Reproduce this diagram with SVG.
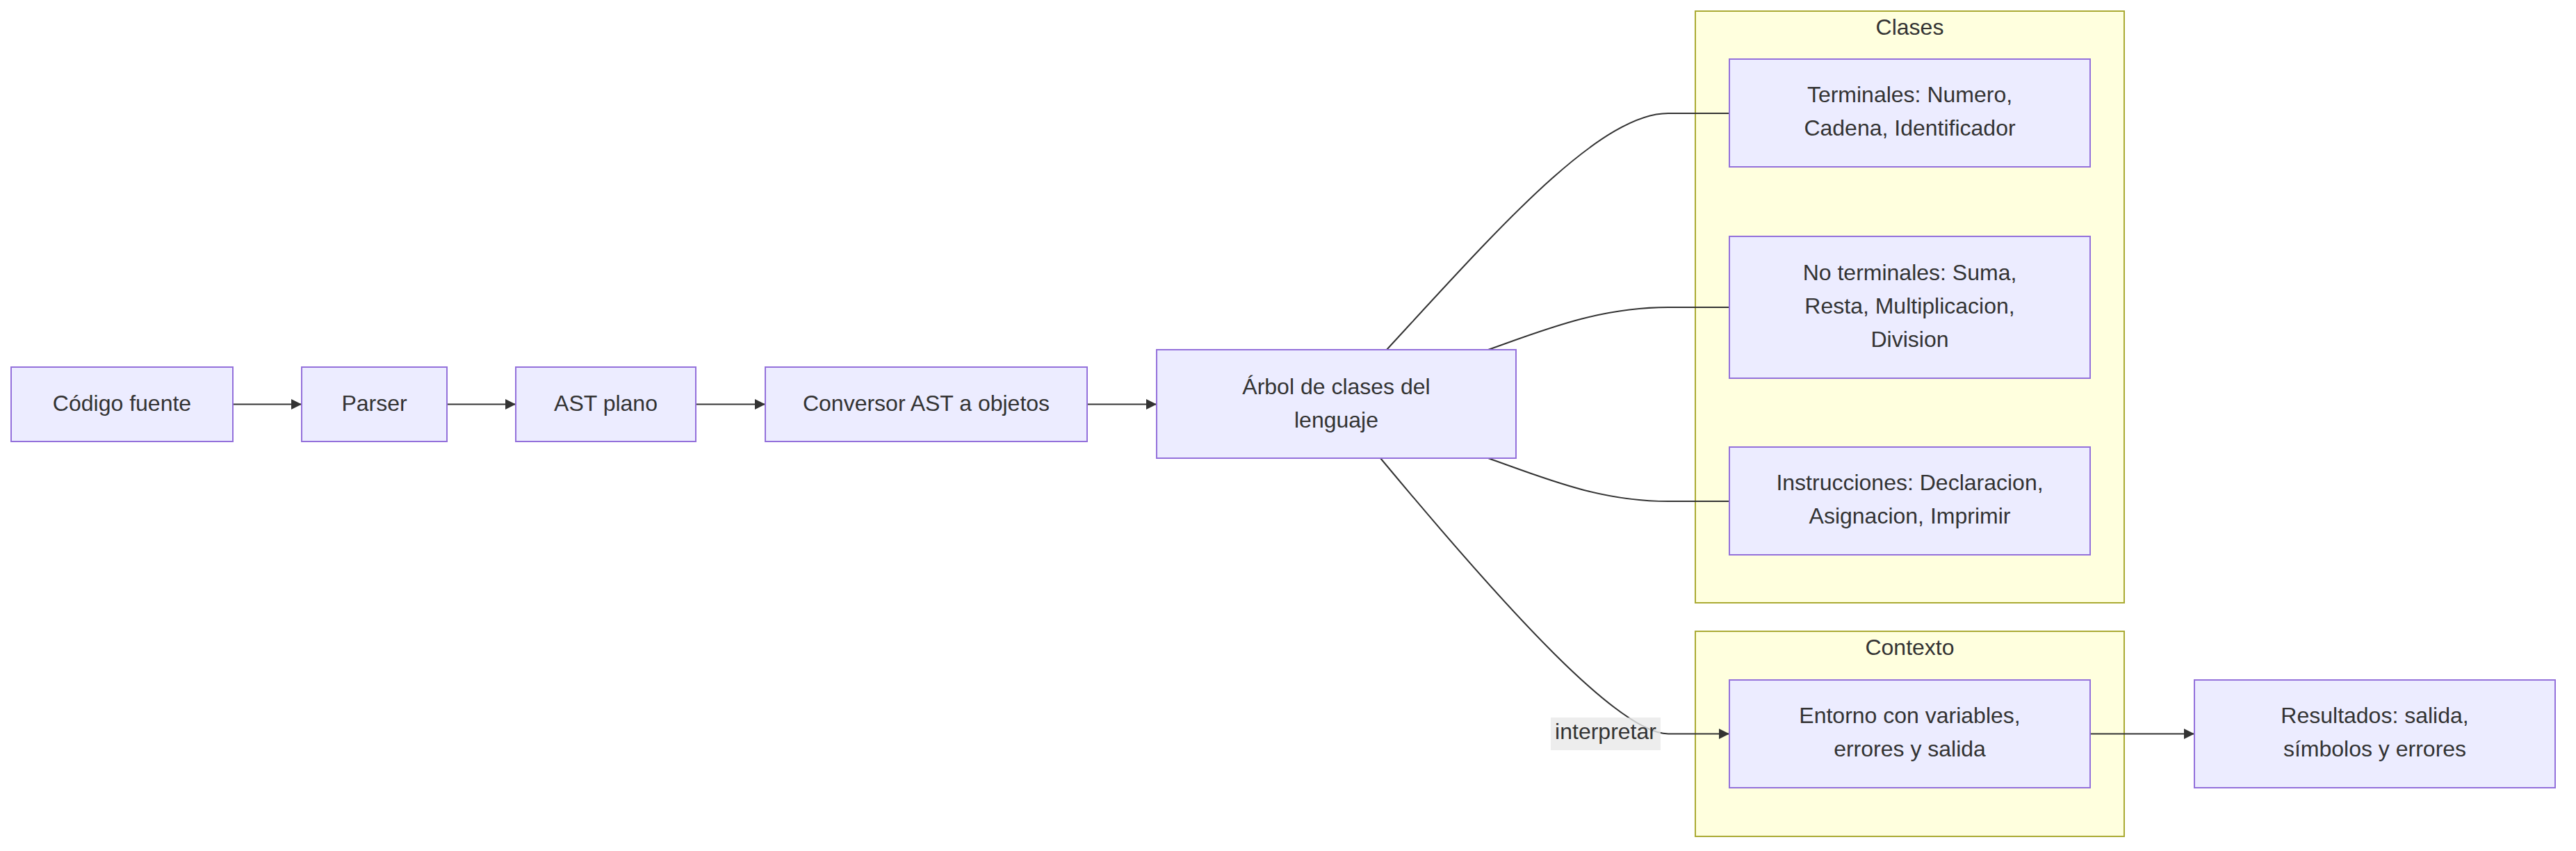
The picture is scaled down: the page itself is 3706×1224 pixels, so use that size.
<svg xmlns="http://www.w3.org/2000/svg" width="3706" height="1224" viewBox="0 0 3706 1224">
<style>
.cluster{fill:#ffffde;stroke:#aaaa33;stroke-width:2}
.node{fill:#ececff;stroke:#9370db;stroke-width:2}
.t{font-family:"Liberation Sans",Arial,sans-serif;font-size:32px;fill:#333333;text-anchor:middle}
.edge{fill:none;stroke:#333333;stroke-width:2}
.lbl{fill:rgba(232,232,232,0.8)}
</style>
<defs>
<marker id="arr" viewBox="0 0 10 10" refX="10" refY="5" markerWidth="15" markerHeight="15" markerUnits="userSpaceOnUse" orient="auto">
<path d="M0,0 L10,5 L0,10 z" fill="#333333"/>
</marker>
</defs>
<rect width="3706" height="1224" fill="#ffffff"/>
<g id="cluster-clases">
<rect class="cluster" x="2439" y="16" width="617" height="851"/>
<text class="t" x="2747.5" y="50">Clases</text>
</g>
<g id="cluster-contexto">
<rect class="cluster" x="2439" y="908" width="617" height="295"/>
<text class="t" x="2747.5" y="942">Contexto</text>
</g>
<g id="connectors">
<path class="edge" d="M335,581.5 L434,581.5" marker-end="url(#arr)"/>
<path class="edge" d="M643,581.5 L742,581.5" marker-end="url(#arr)"/>
<path class="edge" d="M1001,581.5 L1101,581.5" marker-end="url(#arr)"/>
<path class="edge" d="M1564,581.5 L1664,581.5" marker-end="url(#arr)"/>
<path class="edge" d="M1995,503 C2150,335 2300,163 2400,163 L2488,163"/>
<path class="edge" d="M2141,503 C2220,475 2300,442 2400,442 L2488,442"/>
<path class="edge" d="M2141,659 C2220,687 2300,721 2400,721 L2488,721"/>
<path class="edge" d="M1986,659 C2170,880 2330,1055 2400,1055.5 L2488,1055.5" marker-end="url(#arr)"/>
<path class="edge" d="M3007,1055.5 L3157,1055.5" marker-end="url(#arr)"/>
<g id="edge-label-interpretar">
<rect class="lbl" x="2231" y="1032" width="158" height="47"/>
<text class="t" x="2310" y="1063">interpretar</text>
</g>
</g>
<g id="n-codigo">
<rect class="node" x="16" y="528" width="319" height="107"/>
<text class="t" x="175.5" y="591">Código fuente</text>
</g>
<g id="n-parser">
<rect class="node" x="434" y="528" width="209" height="107"/>
<text class="t" x="538.5" y="591">Parser</text>
</g>
<g id="n-ast">
<rect class="node" x="742" y="528" width="259" height="107"/>
<text class="t" x="871.5" y="591">AST plano</text>
</g>
<g id="n-conversor">
<rect class="node" x="1101" y="528" width="463" height="107"/>
<text class="t" x="1332.5" y="591">Conversor AST a objetos</text>
</g>
<g id="n-arbol">
<rect class="node" x="1664" y="503" width="517" height="156"/>
<text class="t" x="1922.5" y="567">Árbol de clases del</text>
<text class="t" x="1922.5" y="615">lenguaje</text>
</g>
<g id="n-terminales">
<rect class="node" x="2488" y="85" width="519" height="155"/>
<text class="t" x="2747.5" y="147">Terminales: Numero,</text>
<text class="t" x="2747.5" y="195">Cadena, Identificador</text>
</g>
<g id="n-noterminales">
<rect class="node" x="2488" y="340" width="519" height="204"/>
<text class="t" x="2747.5" y="403">No terminales: Suma,</text>
<text class="t" x="2747.5" y="451">Resta, Multiplicacion,</text>
<text class="t" x="2747.5" y="499">Division</text>
</g>
<g id="n-instrucciones">
<rect class="node" x="2488" y="643" width="519" height="155"/>
<text class="t" x="2747.5" y="705">Instrucciones: Declaracion,</text>
<text class="t" x="2747.5" y="753">Asignacion, Imprimir</text>
</g>
<g id="n-entorno">
<rect class="node" x="2488" y="978" width="519" height="155"/>
<text class="t" x="2747.5" y="1040">Entorno con variables,</text>
<text class="t" x="2747.5" y="1088">errores y salida</text>
</g>
<g id="n-resultados">
<rect class="node" x="3157" y="978" width="519" height="155"/>
<text class="t" x="3416.5" y="1040">Resultados: salida,</text>
<text class="t" x="3416.5" y="1088">símbolos y errores</text>
</g>
</svg>
